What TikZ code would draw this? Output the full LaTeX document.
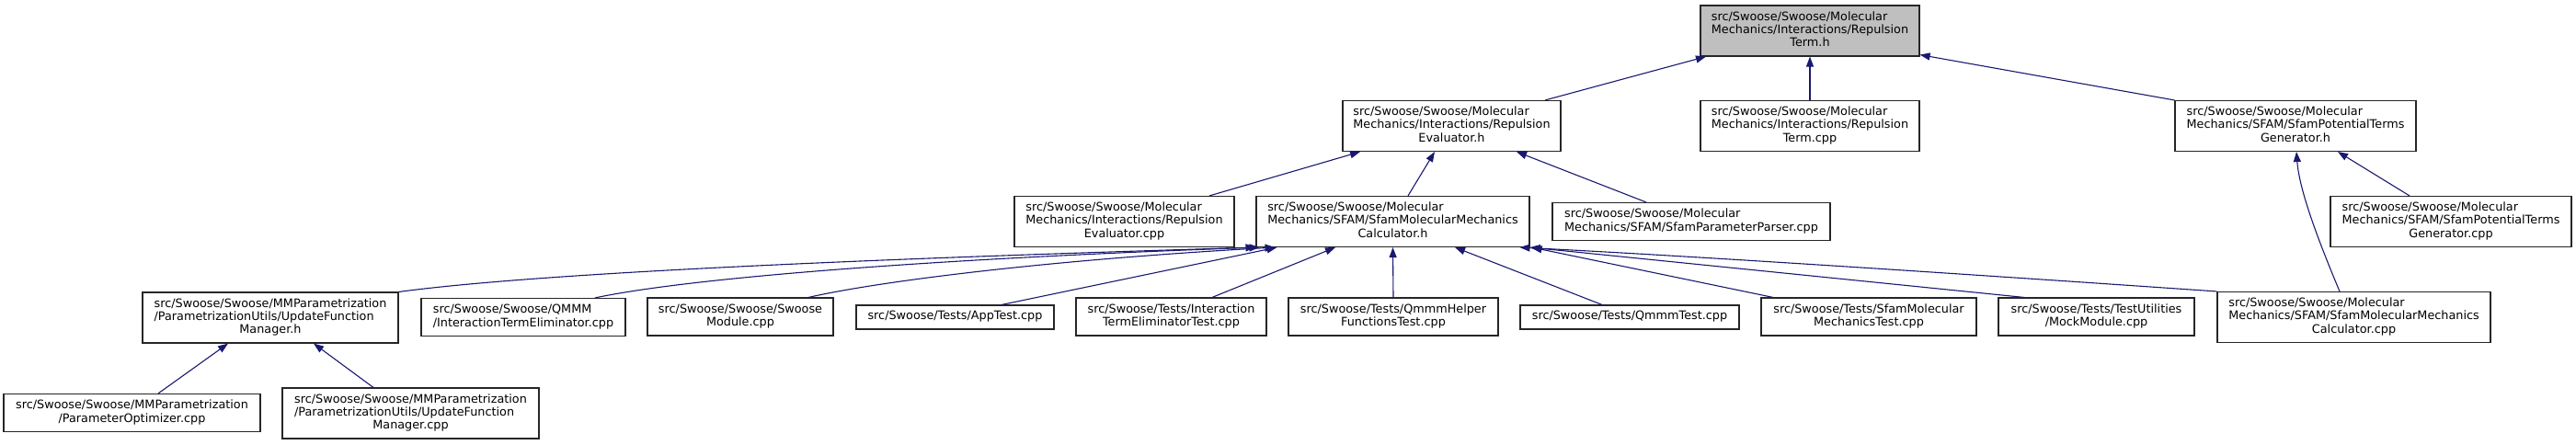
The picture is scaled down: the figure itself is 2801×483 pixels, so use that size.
\documentclass[tikz,border=0pt]{standalone}
\usepackage{fontspec}
\setmainfont{DejaVu Sans}
\usetikzlibrary{arrows.meta}
\definecolor{edgeblue}{RGB}{25,25,112}
\newcommand{\filelabel}[2]{\begin{tabular}{@{}l@{}}#1\\\multicolumn{1}{@{}c@{}}{#2}\end{tabular}}
\newcommand{\oneline}[1]{\begin{tabular}{@{}c@{}}#1\end{tabular}}
\begin{document}
\begin{tikzpicture}[x=1pt, y=-1pt,
    file/.style={draw=black!85, line width=1.1pt, fill=white, inner sep=0pt,
        font=\fontsize{12.8}{14.3}\selectfont},
    lines3/.style={minimum height=55pt},
    lines2/.style={minimum height=41pt},
    lines1/.style={minimum height=26pt},
    inc/.style={draw=edgeblue, line width=1.1pt, -{Triangle[length=11pt,width=8pt]}}]
    \useasboundingbox (0,0) rectangle (2801,483);
    % top
    \node[file, lines3, minimum width=238pt, fill=black!25] (root) at (1968,33.5)
        {\filelabel{src/Swoose/Swoose/Molecular\\Mechanics/Interactions/Repulsion}{Term.h}};
    % first row
    \node[file, lines3, minimum width=237pt] (evalh) at (1578.5,137)
        {\filelabel{src/Swoose/Swoose/Molecular\\Mechanics/Interactions/Repulsion}{Evaluator.h}};
    \node[file, lines3, minimum width=238pt] (termcpp) at (1968,137)
        {\filelabel{src/Swoose/Swoose/Molecular\\Mechanics/Interactions/Repulsion}{Term.cpp}};
    \node[file, lines3, minimum width=262pt] (potth) at (2496,137)
        {\filelabel{src/Swoose/Swoose/Molecular\\Mechanics/SFAM/SfamPotentialTerms}{Generator.h}};
    % second row
    \node[file, lines3, minimum width=239pt] (evalcpp) at (1222.5,241)
        {\filelabel{src/Swoose/Swoose/Molecular\\Mechanics/Interactions/Repulsion}{Evaluator.cpp}};
    \node[file, lines3, minimum width=297pt] (calch) at (1514.5,241)
        {\filelabel{src/Swoose/Swoose/Molecular\\Mechanics/SFAM/SfamMolecularMechanics}{Calculator.h}};
    \node[file, lines2, minimum width=302pt] (parser) at (1839,241)
        {\filelabel{src/Swoose/Swoose/Molecular}{Mechanics/SFAM/SfamParameterParser.cpp}};
    \node[file, lines3, minimum width=262pt] (potcpp) at (2665,241)
        {\filelabel{src/Swoose/Swoose/Molecular\\Mechanics/SFAM/SfamPotentialTerms}{Generator.cpp}};
    % third row
    \node[file, lines3, minimum width=278pt] (mgrh) at (294,345.5)
        {\filelabel{src/Swoose/Swoose/MMParametrization\\/ParametrizationUtils/UpdateFunction}{Manager.h}};
    \node[file, lines2, minimum width=222pt] (qmmm) at (569,345)
        {\filelabel{src/Swoose/Swoose/QMMM}{/InteractionTermEliminator.cpp}};
    \node[file, lines2, minimum width=202pt] (swmod) at (805,344.5)
        {\filelabel{src/Swoose/Swoose/Swoose}{Module.cpp}};
    \node[file, lines1, minimum width=215pt] (apptest) at (1038.5,345)
        {\oneline{src/Swoose/Tests/AppTest.cpp}};
    \node[file, lines2, minimum width=207pt] (itetest) at (1273.5,344.5)
        {\filelabel{src/Swoose/Tests/Interaction}{TermEliminatorTest.cpp}};
    \node[file, lines2, minimum width=228pt] (helper) at (1515,344.5)
        {\filelabel{src/Swoose/Tests/QmmmHelper}{FunctionsTest.cpp}};
    \node[file, lines1, minimum width=238pt] (qmmmtest) at (1772,345)
        {\oneline{src/Swoose/Tests/QmmmTest.cpp}};
    \node[file, lines2, minimum width=234pt] (sfamtest) at (2032,344.5)
        {\filelabel{src/Swoose/Tests/SfamMolecular}{MechanicsTest.cpp}};
    \node[file, lines2, minimum width=213pt] (mock) at (2279.5,344.5)
        {\filelabel{src/Swoose/Tests/TestUtilities}{/MockModule.cpp}};
    \node[file, lines3, minimum width=297pt] (calccpp) at (2559.5,345)
        {\filelabel{src/Swoose/Swoose/Molecular\\Mechanics/SFAM/SfamMolecularMechanics}{Calculator.cpp}};
    % fourth row
    \node[file, lines2, minimum width=279pt] (paropt) at (143.5,449)
        {\filelabel{src/Swoose/Swoose/MMParametrization}{/ParameterOptimizer.cpp}};
    \node[file, lines3, minimum width=279pt] (mgrcpp) at (446.5,449.5)
        {\filelabel{src/Swoose/Swoose/MMParametrization\\/ParametrizationUtils/UpdateFunction}{Manager.cpp}};
    % includes of the top file
    \draw[inc] ([xshift=101.5pt]evalh.north) -- ([xshift=-113pt]root.south);
    \draw[inc] (termcpp.north) -- (root.south);
    \draw[inc] (potth.north west) -- ([yshift=2pt]root.south east);
    \draw[inc] ([xshift=92.5pt]evalcpp.north) -- ([xshift=-99.5pt]evalh.south);
    \draw[inc] ([xshift=16.5pt]calch.north) -- ([xshift=-18.5pt]evalh.south);
    \draw[inc] ([xshift=-49pt]parser.north) -- ([xshift=70.5pt]evalh.south);
    \draw[inc] ([xshift=-45pt]potcpp.north) -- ([xshift=46pt]potth.south);
    \draw[inc] ([xshift=-15.5pt]calccpp.north) .. controls (2518,255) and (2500,205) .. ([xshift=1pt]potth.south);
    % includes of the calculator header
    \draw[inc] (mgrh.north east) .. controls (600,295) and (1000,280) .. (calch.south west);
    \draw[inc] ([xshift=78pt]qmmm.north) .. controls (760,300) and (1050,280) .. ([xshift=4pt]calch.south west);
    \draw[inc] ([xshift=74pt]swmod.north) .. controls (960,305) and (1150,282) .. ([xshift=21pt]calch.south west);
    \draw[inc] ([xshift=50.5pt]apptest.north) -- ([xshift=23pt]calch.south west);
    \draw[inc] ([xshift=44.5pt]itetest.north) -- ([xshift=-62.5pt]calch.south);
    \draw[inc] (helper.north) -- (calch.south);
    \draw[inc] ([xshift=-30pt]qmmmtest.north) -- ([xshift=67.5pt]calch.south);
    \draw[inc] ([xshift=-104pt]sfamtest.north) -- ([xshift=2pt]calch.south east);
    \draw[inc] ([xshift=-78.5pt]mock.north) -- (calch.south east);
    \draw[inc] (calccpp.north west) .. controls (2150,299) and (1850,279) .. ([xshift=-11pt]calch.south east);
    % includes of the update manager header
    \draw[inc] ([xshift=28.5pt]paropt.north) -- ([xshift=-46pt]mgrh.south);
    \draw[inc] ([xshift=-40.5pt]mgrcpp.north) -- ([xshift=47pt]mgrh.south);
\end{tikzpicture}
\end{document}
